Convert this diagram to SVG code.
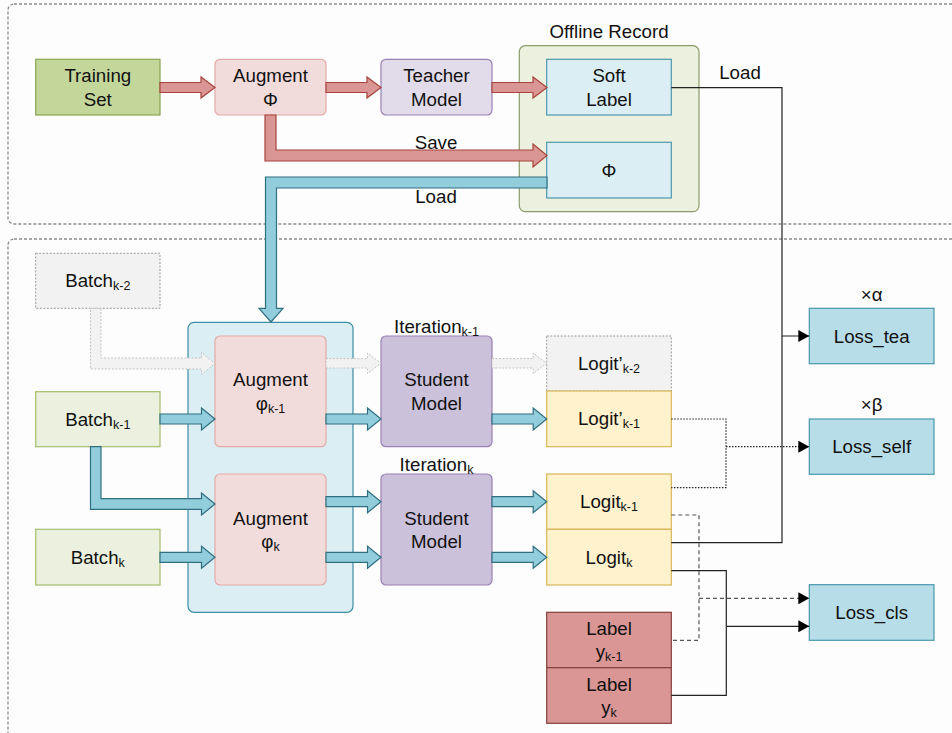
<svg xmlns="http://www.w3.org/2000/svg" width="952" height="733" viewBox="0 0 952 733">
<style>
text{font-family:"Liberation Sans",Arial,sans-serif;font-size:18.7px;fill:#111;text-anchor:middle}
.sub{font-size:12.5px}
.frame{fill:none;stroke:#8a8a8a;stroke-width:1.3;stroke-dasharray:3 2}
.green{fill:#c4d79b;stroke:#8aa653;stroke-width:1.2}
.lgreen{fill:#ebf1de;stroke:#a5bd6b;stroke-width:1.2}
.aug{fill:#f2dcdb;stroke:#e3aaa6;stroke-width:1.2}
.teach{fill:#e2dcea;stroke:#9a80b4;stroke-width:1.2}
.stud{fill:#ccc1da;stroke:#9a80b4;stroke-width:1.2}
.lblue{fill:#dbeef4;stroke:#4f97ad;stroke-width:1.2}
.cont{fill:#dbeef4;stroke:#3e8ea5;stroke-width:1.2}
.rec{fill:#ebf1de;stroke:#8c9c6c;stroke-width:1.2}
.gray{fill:#f2f2f2;stroke:#9a9a9a;stroke-width:1;stroke-dasharray:2 1.5}
.yel{fill:#fff2cc;stroke:#d6b656;stroke-width:1.2}
.lab{fill:#d99694;stroke:#84403c;stroke-width:1.2}
.loss{fill:#b7dee8;stroke:#4a98ad;stroke-width:1.2}
.ared{fill:#d99694;stroke:#a8443d;stroke-width:1.2}
.ablue{fill:#92cddc;stroke:#2f6f80;stroke-width:1.2}
.agray{fill:#f2f2f2;stroke:#c4c4c4;stroke-width:1;stroke-dasharray:2 1.5}
.ln{fill:none;stroke:#222;stroke-width:1.2}
.dot{fill:none;stroke:#222;stroke-width:1.2;stroke-dasharray:1.5 1.5}
.dash{fill:none;stroke:#555;stroke-width:1.2;stroke-dasharray:4 3}
</style>
<defs>
<marker id="ah" markerUnits="userSpaceOnUse" markerWidth="12" markerHeight="12" refX="11" refY="6" orient="auto">
<path d="M0,0 L11,6 L0,12 Z" fill="#000"/>
</marker>
</defs>
<rect width="952" height="733" fill="#fdfdfd"/>
<g id="frames">
<rect class="frame" x="8" y="4" width="960" height="220" rx="6"/>
<rect class="frame" x="8" y="239" width="960" height="520" rx="6"/>
</g>
<g id="offline-record">
<rect class="rec" x="519.3" y="45.7" width="179.7" height="166" rx="6"/>
<text x="609" y="38.3">Offline Record</text>
</g>
<g id="augment-container">
<rect class="cont" x="188" y="322.3" width="165" height="290" rx="6"/>
</g>
<g id="training-set">
<rect class="green" x="35.7" y="59.3" width="124.3" height="55.7"/>
<text x="97.8" y="82.3">Training</text><text x="97.8" y="105.6">Set</text>
</g>
<g id="augment-phi">
<rect class="aug" x="215" y="59.3" width="111" height="55.7" rx="5"/>
<text x="270.5" y="82.3">Augment</text><text x="270.5" y="105.6">Φ</text>
</g>
<g id="teacher-model">
<rect class="teach" x="381" y="59.3" width="111" height="55.7" rx="5"/>
<text x="436.5" y="82.3">Teacher</text><text x="436.5" y="105.6">Model</text>
</g>
<g id="soft-label">
<rect class="lblue" x="546.7" y="59.3" width="124.6" height="55.7"/>
<text x="609" y="82.3">Soft</text><text x="609" y="105.6">Label</text>
</g>
<g id="phi-record">
<rect class="lblue" x="546.7" y="142.3" width="124.6" height="55.7"/>
<text x="609" y="176.5">Φ</text>
</g>
<g id="batch-k-2">
<rect class="gray" x="35.7" y="253.3" width="124.3" height="55"/>
<text x="97.8" y="287.3">Batch<tspan class="sub" dy="3">k-2</tspan></text>
</g>
<g id="batch-k-1">
<rect class="lgreen" x="35.7" y="391.7" width="124.3" height="55"/>
<text x="97.8" y="425.7">Batch<tspan class="sub" dy="3">k-1</tspan></text>
</g>
<g id="batch-k">
<rect class="lgreen" x="35.7" y="529.3" width="124.3" height="55.7"/>
<text x="97.8" y="563.7">Batch<tspan class="sub" dy="3">k</tspan></text>
</g>
<g id="augment-k-1">
<rect class="aug" x="215" y="336" width="111" height="110.7" rx="5"/>
<text x="270.5" y="386.3">Augment</text><text x="270.5" y="409.6">φ<tspan class="sub" dy="3">k-1</tspan></text>
</g>
<g id="augment-k">
<rect class="aug" x="215" y="474" width="111" height="111" rx="5"/>
<text x="270.5" y="524.5">Augment</text><text x="270.5" y="547.8">φ<tspan class="sub" dy="3">k</tspan></text>
</g>
<g id="student-k-1">
<rect class="stud" x="381" y="336" width="111" height="110.7" rx="5"/>
<text x="436.5" y="333.3">Iteration<tspan class="sub" dy="3">k-1</tspan></text>
<text x="436.5" y="386.3">Student</text><text x="436.5" y="409.6">Model</text>
</g>
<g id="student-k">
<rect class="stud" x="381" y="474" width="111" height="111" rx="5"/>
<text x="436.5" y="470.7">Iteration<tspan class="sub" dy="3">k</tspan></text>
<text x="436.5" y="524.5">Student</text><text x="436.5" y="547.8">Model</text>
</g>
<g id="logitp-k-2">
<rect class="gray" x="546.7" y="336" width="124.6" height="55"/>
<text x="609" y="370">Logit’<tspan class="sub" dy="3">k-2</tspan></text>
</g>
<g id="logitp-k-1">
<rect class="yel" x="546.7" y="391" width="124.6" height="55.7"/>
<text x="609" y="425.3">Logit’<tspan class="sub" dy="3">k-1</tspan></text>
</g>
<g id="logit-k-1">
<rect class="yel" x="546.7" y="474" width="124.6" height="55.3"/>
<text x="609" y="508.2">Logit<tspan class="sub" dy="3">k-1</tspan></text>
</g>
<g id="logit-k">
<rect class="yel" x="546.7" y="529.3" width="124.6" height="55.7"/>
<text x="609" y="563.7">Logit<tspan class="sub" dy="3">k</tspan></text>
</g>
<g id="label-k-1">
<rect class="lab" x="546.7" y="612.3" width="124.6" height="55.4"/>
<text x="609" y="635">Label</text><text x="609" y="658.3">y<tspan class="sub" dy="3">k-1</tspan></text>
</g>
<g id="label-k">
<rect class="lab" x="546.7" y="667.7" width="124.6" height="55.6"/>
<text x="609" y="690.5">Label</text><text x="609" y="713.8">y<tspan class="sub" dy="3">k</tspan></text>
</g>
<g id="loss-tea">
<rect class="loss" x="809.3" y="308.3" width="124.7" height="55.4"/>
<text x="871.7" y="300.7">×α</text>
<text x="871.7" y="342.5">Loss_tea</text>
</g>
<g id="loss-self">
<rect class="loss" x="809.3" y="419" width="124.7" height="55.3"/>
<text x="871.7" y="410.7">×β</text>
<text x="871.7" y="453.2">Loss_self</text>
</g>
<g id="loss-cls">
<rect class="loss" x="809.3" y="584.7" width="124.7" height="55.6"/>
<text x="871.7" y="619">Loss_cls</text>
</g>
<g id="connectors">
<polygon class="ared" points="160,82.5 201,82.5 201,77 215,87.5 201,98 201,92.5 160,92.5"/>
<polygon class="ared" points="326,82.5 367,82.5 367,77 381,87.5 367,98 367,92.5 326,92.5"/>
<polygon class="ared" points="492,82.5 533,82.5 533,77 547,87.5 533,98 533,92.5 492,92.5"/>
<polygon class="ared" points="265,115 276,115 276,150 533,150 533,144 547,155.5 533,167 533,161 265,161"/>
<text x="436" y="149">Save</text>
<polygon class="ablue" points="547,177 265.5,177 265.5,308.3 259,308.3 271,322 283,308.3 276.5,308.3 276.5,188 547,188"/>
<text x="436" y="203.3">Load</text>
<polygon class="agray" points="90.5,308.5 101,308.5 101,358 201.5,358 201.5,352.5 215,363.5 201.5,374.5 201.5,369 90.5,369"/>
<polygon class="ablue" points="90.5,446.7 101,446.7 101,498.7 201.5,498.7 201.5,493 215,504 201.5,515 201.5,509.3 90.5,509.3"/>
<polygon class="ablue" points="160,414 201.5,414 201.5,408 215,419 201.5,430 201.5,424 160,424"/>
<polygon class="ablue" points="160,552.3 201.5,552.3 201.5,546.3 215,557.3 201.5,568.3 201.5,562.3 160,562.3"/>
<polygon class="agray" points="326,358.6 367.5,358.6 367.5,353 381,363.3 367.5,373.6 367.5,368 326,368"/>
<polygon class="ablue" points="326,414 367.5,414 367.5,408 381,419 367.5,430 367.5,424 326,424"/>
<polygon class="ablue" points="326,496.7 367.5,496.7 367.5,490.7 381,501.7 367.5,512.7 367.5,506.7 326,506.7"/>
<polygon class="ablue" points="326,552.3 367.5,552.3 367.5,546.3 381,557.3 367.5,568.3 367.5,562.3 326,562.3"/>
<polygon class="agray" points="492,358.6 533.2,358.6 533.2,353 546.7,363.3 533.2,373.6 533.2,368 492,368"/>
<polygon class="ablue" points="492,414 533.2,414 533.2,408 546.7,419 533.2,430 533.2,424 492,424"/>
<polygon class="ablue" points="492,496.7 533.2,496.7 533.2,490.7 546.7,501.7 533.2,512.7 533.2,506.7 492,506.7"/>
<polygon class="ablue" points="492,552.3 533.2,552.3 533.2,546.3 546.7,557.3 533.2,568.3 533.2,562.3 492,562.3"/>
<path class="ln" d="M671.3,87.7 H782 V336 H809.3" marker-end="url(#ah)"/>
<path class="ln" d="M671.3,542.7 H782 V336"/>
<text x="740" y="79">Load</text>
<path class="dot" d="M671.3,419 H726 V487.7 H671.3"/>
<path class="dot" d="M726,446.7 H809.3" marker-end="url(#ah)"/>
<path class="dash" d="M671.3,515 H699 V640.3 H671.3"/>
<path class="dash" d="M699,598.3 H809.3" marker-end="url(#ah)"/>
<path class="ln" d="M671.3,570.7 H726.3 V695.3 H671.3"/>
<path class="ln" d="M726.3,626.3 H809.3" marker-end="url(#ah)"/>
</g>
</svg>
